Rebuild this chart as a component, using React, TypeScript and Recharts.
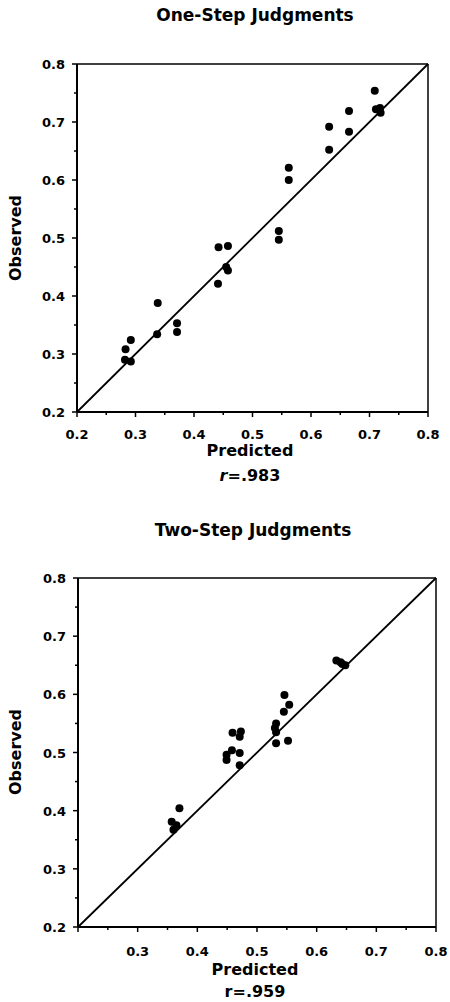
import { ScatterChart, Scatter, XAxis, YAxis, ReferenceLine } from "recharts";

// values
const oneStepPredicted = [0.709, 0.711, 0.718, 0.719, 0.665, 0.665, 0.631, 0.631, 0.562, 0.562, 0.545, 0.545, 0.442, 0.458, 0.441, 0.455, 0.458, 0.338, 0.371, 0.371, 0.337, 0.292, 0.283, 0.282, 0.292];
const oneStepObserved = [0.754, 0.722, 0.724, 0.716, 0.719, 0.683, 0.692, 0.652, 0.621, 0.6, 0.512, 0.497, 0.484, 0.486, 0.421, 0.45, 0.444, 0.388, 0.353, 0.338, 0.334, 0.324, 0.308, 0.29, 0.287];

const twoStepPredicted = [0.633, 0.64, 0.648, 0.643, 0.546, 0.554, 0.545, 0.532, 0.53, 0.532, 0.532, 0.552, 0.459, 0.473, 0.471, 0.458, 0.449, 0.471, 0.449, 0.471, 0.37, 0.357, 0.365, 0.36];
const twoStepObserved = [0.658, 0.655, 0.65, 0.652, 0.599, 0.582, 0.57, 0.55, 0.542, 0.535, 0.516, 0.52, 0.534, 0.536, 0.527, 0.504, 0.496, 0.499, 0.487, 0.478, 0.404, 0.381, 0.375, 0.367];

const axisTicks = [0.2, 0.25, 0.3, 0.35, 0.4, 0.45, 0.5, 0.55, 0.6, 0.65, 0.7, 0.75, 0.8];
const diagonal = [{ x: 0.2, y: 0.2 }, { x: 0.8, y: 0.8 }];

const FONT = "'DejaVu Sans', sans-serif";

const isMajor = (v: number) => Math.round(v * 100) % 10 === 0;

function XTick(props: any) {
  const { x, y, payload, skip, labelDy } = props;
  const v = payload.value;
  const major = isMajor(v);
  return (
    <g>
      <line x1={x} x2={x} y1={y} y2={y + (major ? 5 : 3)} stroke="#000" strokeWidth={1.5} />
      {major && v !== skip && (
        <text x={x} y={y + labelDy} textAnchor="middle" fontFamily={FONT} fontWeight="bold" fontSize={13} fill="#000">
          {v.toFixed(1)}
        </text>
      )}
    </g>
  );
}

function YTick(props: any) {
  const { x, y, payload } = props;
  const v = payload.value;
  const major = isMajor(v);
  return (
    <g>
      <line x1={x} x2={x - (major ? 5 : 3)} y1={y} y2={y} stroke="#000" strokeWidth={1.5} />
      {major && (
        <text x={x - 12} y={y + 5} textAnchor="end" fontFamily={FONT} fontWeight="bold" fontSize={13} fill="#000">
          {v.toFixed(1)}
        </text>
      )}
    </g>
  );
}

const dot = (p: any) => <circle cx={p.cx} cy={p.cy} r={4} fill="#000" />;

function Panel({ top, height, margin, predicted, observed, skip, labelDy }: any) {
  const data = predicted.map((p: number, i: number) => ({ x: p, y: observed[i] }));
  return (
    <div style={{ position: "absolute", left: 0, top, width: 450, height }}>
      <ScatterChart width={450} height={height} margin={margin}>
        <XAxis
          type="number"
          dataKey="x"
          domain={[0.2, 0.8]}
          ticks={axisTicks}
          interval={0}
          height={30}
          tickSize={0}
          tickMargin={0}
          tickLine={false}
          axisLine={{ stroke: "#000", strokeWidth: 2 }}
          tick={(p: any) => <XTick {...p} skip={skip} labelDy={labelDy} />}
        />
        <YAxis
          type="number"
          dataKey="y"
          domain={[0.2, 0.8]}
          ticks={axisTicks}
          interval={0}
          width={40}
          tickSize={0}
          tickMargin={0}
          tickLine={false}
          axisLine={{ stroke: "#000", strokeWidth: 2 }}
          tick={(p: any) => <YTick {...p} />}
        />
        <ReferenceLine y={0.8} stroke="#000" strokeWidth={1.5} />
        <ReferenceLine x={0.8} stroke="#000" strokeWidth={1.5} />
        <ReferenceLine segment={diagonal} stroke="#000" strokeWidth={1.8} />
        <Scatter data={data} shape={dot} isAnimationActive={false} />
      </ScatterChart>
    </div>
  );
}

function Label({ x, y, size, children, rotate }: any) {
  return (
    <div
      style={{
        position: "absolute",
        left: x,
        top: y,
        transform: `translate(-50%, -50%)${rotate ? " rotate(-90deg)" : ""}`,
        fontFamily: FONT,
        fontWeight: "bold",
        fontSize: size,
        lineHeight: 1,
        whiteSpace: "nowrap",
        color: "#000",
      }}
    >
      {children}
    </div>
  );
}

export default function App() {
  return (
    <div style={{ position: "absolute", left: 0, top: 0, width: 450, height: 1002, background: "#fff" }}>
      <Label x={255} y={15} size={17}>One-Step Judgments</Label>
      <Panel
        top={0}
        height={500}
        margin={{ top: 64, right: 22, bottom: 58, left: 37 }}
        predicted={oneStepPredicted}
        observed={oneStepObserved}
        skip={null}
        labelDy={27}
      />
      <Label x={16} y={238} size={16} rotate>Observed</Label>
      <Label x={250} y={451} size={16}>Predicted</Label>
      <Label x={250} y={476} size={16}><i>r</i>=.983</Label>

      <Label x={253} y={530} size={17}>Two-Step Judgments</Label>
      <Panel
        top={500}
        height={502}
        margin={{ top: 78, right: 14, bottom: 45, left: 38 }}
        predicted={twoStepPredicted}
        observed={twoStepObserved}
        skip={0.2}
        labelDy={29}
      />
      <Label x={16} y={752} size={16} rotate>Observed</Label>
      <Label x={255} y={970} size={16}>Predicted</Label>
      <Label x={255} y={992} size={16}>r=.959</Label>
    </div>
  );
}
